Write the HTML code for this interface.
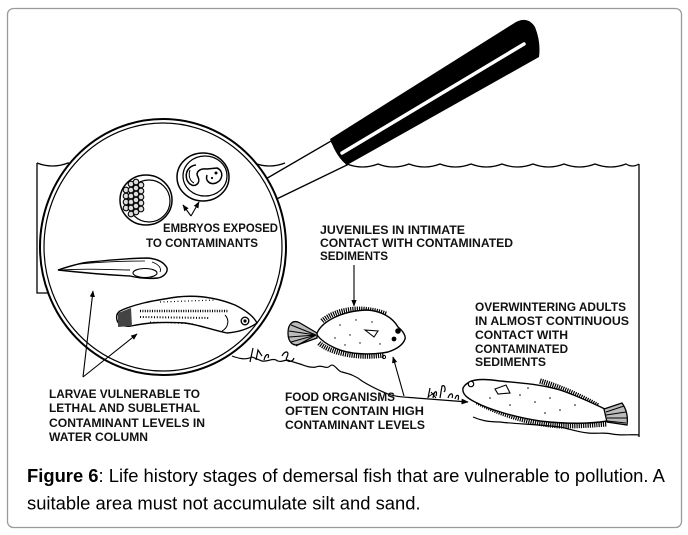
<!DOCTYPE html>
<html><head><meta charset="utf-8"><style>
html,body{margin:0;padding:0;background:#fff;}
svg{display:block;}
.l{font-family:"Liberation Sans",Arial,sans-serif;font-weight:bold;font-size:11.5px;fill:#111;}
</style></head><body>
<svg width="688" height="535" viewBox="0 0 688 535" xmlns="http://www.w3.org/2000/svg">
<defs>
<marker id="ah" viewBox="0 0 10 10" refX="9" refY="5" markerWidth="6" markerHeight="6" orient="auto"><path d="M0,1 L10,5 L0,9 z" fill="#000"/></marker>
</defs>
<rect x="7.5" y="8.5" width="674" height="519" rx="6" fill="#fff" stroke="#9a9a9a" stroke-width="1.3"/>

<!-- water lines -->
<g fill="none" stroke="#000" stroke-width="1.3">
<path d="M37,163 Q52.5,169 68,163 Q83.5,169 99,163 Q114.5,169 130,163 Q145.5,169 161,163 Q176.5,169 192,163 Q207.5,169 223,163 Q238.5,169 254,163 Q269.5,169 285,163"/>
<path d="M347,164 Q362.5,170 378,164 Q393.5,170 409,164 Q424.5,170 440,164 Q455.5,170 471,164 Q486.5,170 502,164 Q517.5,170 533,164 Q548.5,170 564,164 Q579.5,170 595,164 Q610.5,170 626,164 Q632.5,168 639,164"/>
<path d="M639,164 L639,437"/>
<path d="M37,163 L37,293 L50,293"/>
</g>

<!-- stem -->
<path d="M252,187 L331,141 L347,165 L258,208 Z" fill="#fff" stroke="#000" stroke-width="1.4"/>

<!-- ring -->
<ellipse cx="163" cy="247" rx="123" ry="128" fill="#fff" stroke="#000" stroke-width="2"/>
<ellipse cx="163" cy="247" rx="119" ry="124" fill="none" stroke="#000" stroke-width="1.2"/>

<!-- handle -->
<path d="M330,139 L516,22 Q528,16 535,27 Q541,42 539,57 L347,165 Q337,158 330,139 Z" fill="#000"/>
<line x1="342" y1="153" x2="524" y2="44" stroke="#fff" stroke-width="3.5" stroke-linecap="round"/>

<!-- embryo 1 -->
<ellipse cx="146" cy="200" rx="26" ry="25" fill="#fff" stroke="#000" stroke-width="1.5"/>
<ellipse cx="149" cy="201" rx="21" ry="21" fill="none" stroke="#000" stroke-width="1.2"/>
<g fill="#ddd" stroke="#000" stroke-width="1.1">
<circle cx="126" cy="190" r="2.8"/><circle cx="126" cy="196" r="2.8"/><circle cx="126" cy="202" r="2.8"/><circle cx="126" cy="208" r="2.8"/>
<circle cx="131" cy="184" r="2.8"/><circle cx="131" cy="190" r="2.8"/><circle cx="131" cy="196" r="2.8"/><circle cx="131" cy="202" r="2.8"/><circle cx="131" cy="208" r="2.8"/><circle cx="131" cy="214" r="2.8"/>
<circle cx="136" cy="182" r="2.8"/><circle cx="136" cy="188" r="2.8"/><circle cx="136" cy="194" r="2.8"/><circle cx="136" cy="200" r="2.8"/><circle cx="136" cy="206" r="2.8"/><circle cx="136" cy="212" r="2.8"/>
<circle cx="141" cy="185" r="2.8"/><circle cx="141" cy="191" r="2.8"/><circle cx="141" cy="197" r="2.8"/><circle cx="141" cy="203" r="2.8"/><circle cx="141" cy="209" r="2.8"/>
</g>

<!-- embryo 2 -->
<ellipse cx="203" cy="177" rx="26" ry="24" fill="#fff" stroke="#000" stroke-width="1.5"/>
<ellipse cx="205" cy="176" rx="22" ry="20" fill="none" stroke="#000" stroke-width="1.2"/>
<path d="M196,165 C186,166 183,178 190,184 C195,188 201,183 198,177 C195,172 200,168 207,169 L217,168 C224,171 223,180 216,183 C210,185 205,181 207,175" fill="none" stroke="#000" stroke-width="1.5"/>
<path d="M190,170 C188,176 190,181 194,183" fill="none" stroke="#000" stroke-width="1"/>
<circle cx="216" cy="173" r="1.5" fill="#000"/><circle cx="212" cy="178" r="1.1" fill="#000"/>

<!-- larva 1 -->
<path d="M58,270 C70,266 80,263 90,262 C110,260 130,258 148,258 C158,259 164,262 167,268 C168,273 163,277 158,278 C148,279 138,278 130,276 C110,275 85,273 58,270 Z" fill="#fff" stroke="#000" stroke-width="1.4"/>
<path d="M62,270 C90,268 110,270 130,270" fill="none" stroke="#000" stroke-width="0.9"/>
<path d="M80,264 C100,262 120,261 145,261" fill="none" stroke="#000" stroke-width="0.8"/>
<ellipse cx="145" cy="273" rx="12" ry="4.5" fill="#fff" stroke="#000" stroke-width="1.1"/>
<path d="M152,262 C158,264 162,268 160,272" fill="none" stroke="#000" stroke-width="0.9"/>

<!-- larva 2 -->
<path d="M120,311 C135,304 150,301 177,297 C195,295 215,297 235,305 C247,311 254,317 257,323 C250,328 240,332 227,333 C212,330 200,325 185,323 C165,322 150,322 131,326 C124,327 118,325 117,320 C116,316 117,313 120,311 Z" fill="#fff" stroke="#000" stroke-width="1.4"/>
<path d="M118,313 L131,308 L132,326 L118,327 Z" fill="#444"/>
<path d="M140,311 L228,311" fill="none" stroke="#000" stroke-width="2.4" stroke-dasharray="1 1.4"/>
<path d="M140,317 L210,318" fill="none" stroke="#000" stroke-width="2" stroke-dasharray="1 1.8"/>
<path d="M160,302 L215,300" fill="none" stroke="#000" stroke-width="1.2" stroke-dasharray="1 2.5"/>
<path d="M150,322 L195,324" fill="none" stroke="#000" stroke-width="1" stroke-dasharray="1 2.5"/>
<circle cx="245" cy="321" r="3.8" fill="#fff" stroke="#000" stroke-width="1.4"/>
<circle cx="245" cy="321" r="1.6" fill="#000"/>
<path d="M225,315 C230,320 228,328 222,331" fill="none" stroke="#000" stroke-width="1"/>

<!-- seabed line -->
<g fill="none" stroke="#000" stroke-width="1.2">
<path d="M232,356 C240,359 246,360 252,357 L262,361 C268,362 272,358 276,360 C281,364 286,358 290,361 L300,364 C306,366 310,368 316,367 C322,364 326,370 330,366 C334,362 338,372 342,372 C350,374 356,376 362,381 C370,386 378,390 388,394 C396,397 404,397 416,398 L468,402" marker-end="url(#ah)"/>
<path d="M250,362 L253,348 M256,360 L258,350 L262,356 M264,360 C266,352 270,354 268,358 M282,356 C285,350 290,351 287,357 C284,361 292,364 294,358"/>
<path d="M428,398 L430,388 M433,398 C434,390 438,390 436,396 M440,398 L442,386 C445,384 446,390 444,392 M448,398 C450,392 454,393 452,398 M455,399 C456,394 460,394 458,400"/>
<path d="M434,393 L428,397 M431,392 L436,398" stroke-width="1"/>
</g>

<!-- juvenile flounder -->
<path d="M322,321 C336,309 362,305 386,314" fill="none" stroke="#000" stroke-width="5" stroke-dasharray="1.2 1"/>
<path d="M319,343 C330,353 358,359 384,355" fill="none" stroke="#000" stroke-width="5" stroke-dasharray="1.2 1"/>
<path d="M317,333 C322,322 340,311 367,310 C382,311 393,318 398,327 C403,331 406,336 405,339 C403,345 397,349 388,352 C372,355 350,355 335,348 C326,344 320,339 317,335 Z" fill="#fff" stroke="#000" stroke-width="1.4"/>
<path d="M317,333 L300,323 C293,319 288,324 288,333 C288,342 293,347 300,344 L317,338 Z" fill="#bbb" stroke="#000" stroke-width="1.3"/>
<path d="M316,335 L291,325 M316,335 L289,331 M316,335 L289,337 M316,335 L291,342 M316,335 L296,346" stroke="#000" stroke-width="1.1"/>
<circle cx="398" cy="331" r="2.8" fill="#000"/><circle cx="394" cy="339" r="2.4" fill="#000"/>
<path d="M365,330 L378,331 L374,337 Z" fill="#fff" stroke="#000" stroke-width="1.1"/>
<g fill="#000"><circle cx="340" cy="325" r="0.7"/><circle cx="350" cy="335" r="0.7"/><circle cx="335" cy="338" r="0.7"/><circle cx="356" cy="320" r="0.7"/><circle cx="360" cy="343" r="0.7"/><circle cx="345" cy="345" r="0.7"/><circle cx="372" cy="322" r="0.7"/><circle cx="380" cy="344" r="0.7"/></g>
<circle cx="384" cy="357" r="1.6" fill="none" stroke="#000"/>

<!-- adult flounder -->
<path d="M540,381 C560,387 580,396 598,406" fill="none" stroke="#000" stroke-width="5.5" stroke-dasharray="1.2 1"/>
<path d="M477,402 C500,414 530,424 560,426 C580,426 595,425 607,424" fill="none" stroke="#000" stroke-width="5" stroke-dasharray="1.2 1"/>
<path d="M463,388 C468,379 480,378 500,381 C520,383 540,384 560,390 C578,396 592,403 605,409 L607,421 C590,424 565,424 540,421 C515,417 490,410 475,402 C467,398 462,394 463,388 Z" fill="#fff" stroke="#000" stroke-width="1.4"/>
<path d="M604,409 L622,403 C627,410 628,418 627,425 L607,422 Z" fill="#bbb" stroke="#000" stroke-width="1.3"/>
<path d="M606,412 L624,406 M606,415 L626,412 M607,418 L627,418 M607,421 L626,423" stroke="#000" stroke-width="1.1"/>
<circle cx="471" cy="384" r="2.7" fill="#fff" stroke="#000" stroke-width="1.2"/>
<path d="M495,389 L506,385 L510,393 L498,394 Z" fill="#fff" stroke="#000" stroke-width="1.1"/>
<g fill="#000"><circle cx="520" cy="395" r="0.8"/><circle cx="535" cy="402" r="0.8"/><circle cx="550" cy="398" r="0.8"/><circle cx="510" cy="405" r="0.8"/><circle cx="560" cy="410" r="0.8"/><circle cx="575" cy="405" r="0.8"/><circle cx="490" cy="398" r="0.8"/><circle cx="545" cy="413" r="0.8"/><circle cx="528" cy="388" r="0.8"/></g>
<!-- sediment under adult -->
<path d="M473,417 C480,420 487,422 500,422 C515,424 535,424 560,427 C570,429 578,432 588,433 C598,434 604,432 612,434 C622,436 630,434 639,435" fill="none" stroke="#000" stroke-width="1.2"/>

<!-- arrows -->
<g fill="none" stroke="#000" stroke-width="1.1">
<path d="M191,216 L183,205" marker-end="url(#ah)"/>
<path d="M191,216 L199,202" marker-end="url(#ah)"/>
<path d="M354,265 L354,306" marker-end="url(#ah)"/>
<path d="M83,377 L93,291" marker-end="url(#ah)"/>
<path d="M83,377 L137,334" marker-end="url(#ah)"/>
<path d="M404,396 L393,357" marker-end="url(#ah)"/>
</g>

<!-- labels -->
<g class="l">
<text x="163" y="232" textLength="115" lengthAdjust="spacingAndGlyphs">EMBRYOS EXPOSED</text>
<text x="146" y="247" textLength="112" lengthAdjust="spacingAndGlyphs">TO CONTAMINANTS</text>
<text x="320" y="234" textLength="145" lengthAdjust="spacingAndGlyphs">JUVENILES IN INTIMATE</text>
<text x="320" y="247" textLength="193" lengthAdjust="spacingAndGlyphs">CONTACT WITH  CONTAMINATED</text>
<text x="320" y="260" textLength="68" lengthAdjust="spacingAndGlyphs">SEDIMENTS</text>
<text x="475" y="311" textLength="151" lengthAdjust="spacingAndGlyphs">OVERWINTERING  ADULTS</text>
<text x="475" y="325" textLength="154" lengthAdjust="spacingAndGlyphs">IN ALMOST CONTINUOUS</text>
<text x="475" y="339" textLength="93" lengthAdjust="spacingAndGlyphs">CONTACT  WITH</text>
<text x="475" y="353" textLength="93" lengthAdjust="spacingAndGlyphs">CONTAMINATED</text>
<text x="475" y="366" textLength="71" lengthAdjust="spacingAndGlyphs">SEDIMENTS</text>
<text x="49" y="398" textLength="151" lengthAdjust="spacingAndGlyphs">LARVAE VULNERABLE  TO</text>
<text x="49" y="412" textLength="151" lengthAdjust="spacingAndGlyphs">LETHAL AND SUBLETHAL</text>
<text x="49" y="427" textLength="156" lengthAdjust="spacingAndGlyphs">CONTAMINANT LEVELS IN</text>
<text x="49" y="441" textLength="99" lengthAdjust="spacingAndGlyphs">WATER COLUMN</text>
<text x="285" y="401" textLength="110" lengthAdjust="spacingAndGlyphs">FOOD ORGANISMS</text>
<text x="285" y="415" textLength="139" lengthAdjust="spacingAndGlyphs">OFTEN CONTAIN  HIGH</text>
<text x="285" y="429" textLength="140" lengthAdjust="spacingAndGlyphs">CONTAMINANT LEVELS</text>
</g>

<!-- caption -->
<text x="27" y="482" font-family="'Liberation Sans',Arial,sans-serif" font-size="18.4" fill="#000"><tspan font-weight="bold">Figure 6</tspan>: Life history stages of demersal fish that are vulnerable to pollution. A</text>
<text x="27" y="509.5" font-family="'Liberation Sans',Arial,sans-serif" font-size="18.4" fill="#000">suitable area must not accumulate silt and sand.</text>
</svg>
</body></html>
